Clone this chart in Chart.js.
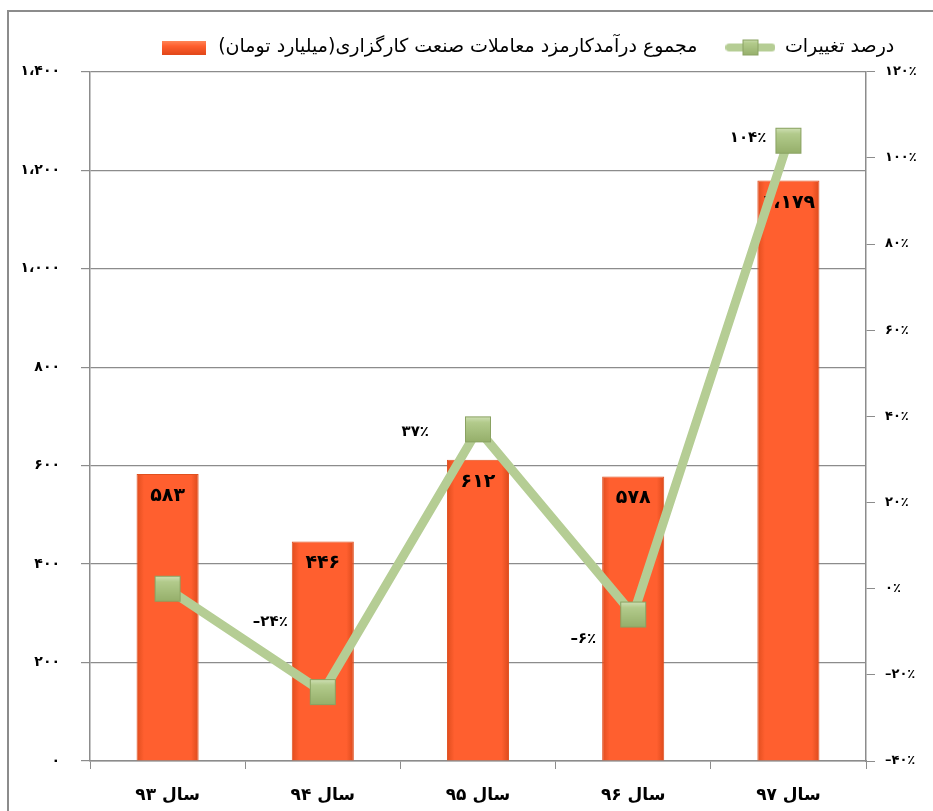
<!DOCTYPE html>
<html>
<head>
<meta charset="utf-8">
<script src="https://cdn.jsdelivr.net/npm/chart.js@4/dist/chart.umd.min.js"></script>
<style>
  body { margin: 0; background: #fff; }
  canvas { display: block; }
</style>
</head>
<body>
<canvas id="feeChart" width="933" height="811"></canvas>
<script>
// data
const years = ["سال ۹۳", "سال ۹۴", "سال ۹۵", "سال ۹۶", "سال ۹۷"];
const revenue = [583, 446, 612, 578, 1179]; // billion toman
const change = [0, -24, 37, -6, 104]; // percent
const revenueLabel = "مجموع درآمدکارمزد معاملات صنعت کارگزاری(میلیارد تومان)";
const changeLabel = "درصد تغییرات";

const FONT = "'DejaVu Sans', sans-serif";
const faDigits = "۰۱۲۳۴۵۶۷۸۹";
const LRI = "\u2066", PDI = "\u2069", RLM = "\u200F";

function fa(str) {
  return String(str).replace(/\d/g, (d) => faDigits[d]);
}
function faNum(n) {
  const s = Math.abs(n).toLocaleString("en-US").replace(/,/g, "،");
  return LRI + (n < 0 ? "–" : "") + fa(s) + PDI;
}
function faPct(n) {
  return LRI + (n < 0 ? "–" : "") + fa(Math.abs(n)) + "٪" + PDI;
}

// marker + legend icons
function makeMarker(size) {
  const c = document.createElement("canvas");
  c.width = size;
  c.height = size;
  const g = c.getContext("2d");
  const grad = g.createLinearGradient(0, 0, 0, size);
  grad.addColorStop(0, "#d6e5bf");
  grad.addColorStop(0.25, "#b3cb8c");
  grad.addColorStop(1, "#93ad68");
  g.fillStyle = grad;
  g.fillRect(1, 1, size - 2, size - 2);
  g.strokeStyle = "#8aa262";
  g.lineWidth = 1;
  g.strokeRect(1.5, 1.5, size - 3, size - 3);
  return c;
}
const marker = makeMarker(28);

function makeLineIcon() {
  const c = document.createElement("canvas");
  c.width = 50;
  c.height = 18;
  const g = c.getContext("2d");
  g.strokeStyle = "#b5cd94";
  g.lineWidth = 8;
  g.lineCap = "round";
  g.beginPath();
  g.moveTo(4, 9);
  g.lineTo(46, 9);
  g.stroke();
  g.drawImage(makeMarker(18), 16, 0);
  return c;
}
function makeBarIcon() {
  const c = document.createElement("canvas");
  c.width = 44;
  c.height = 14;
  const g = c.getContext("2d");
  const grad = g.createLinearGradient(0, 0, 0, 14);
  grad.addColorStop(0, "#ff8a5c");
  grad.addColorStop(0.4, "#ff5f2e");
  grad.addColorStop(1, "#e2481a");
  g.fillStyle = grad;
  g.fillRect(0, 0, 44, 14);
  return c;
}

const frame = {
  id: "frame",
  beforeDraw(chart) {
    const ctx = chart.ctx;
    ctx.save();
    ctx.strokeStyle = "#8c8c8c";
    ctx.lineWidth = 2;
    ctx.strokeRect(8, 11, 1200, 1200);
    ctx.restore();
  },
};

// the legend in the original sits right of centre
const legendShift = {
  id: "legendShift",
  afterLayout(chart) {
    chart.legend.left += 60;
    chart.legend.right += 60;
  },
};

const barShade = {
  id: "barShade",
  beforeDatasetsDraw(chart) {
    const ctx = chart.ctx;
    chart.getDatasetMeta(0).data.forEach((bar) => {
      const l = bar.x - bar.width / 2;
      const r = bar.x + bar.width / 2;
      const grad = ctx.createLinearGradient(l, 0, r, 0);
      grad.addColorStop(0, "#e04d1e");
      grad.addColorStop(0.12, "#ff5f2f");
      grad.addColorStop(0.88, "#ff5f2f");
      grad.addColorStop(1, "#dc4a1c");
      bar.options = Object.assign({}, bar.options, { backgroundColor: grad });
    });
  },
};

const lineLabelOffsets = [null, [-35, -70], [-49, 3], [-37, 25], [-22, -3]];

const valueLabels = {
  id: "valueLabels",
  afterDatasetDraw(chart, args) {
    const ctx = chart.ctx;
    ctx.save();
    ctx.fillStyle = "#000";
    ctx.textBaseline = "middle";
    if (args.index === 0) {
      ctx.font = "bold 19px " + FONT;
      ctx.textAlign = "center";
      args.meta.data.forEach((bar, i) => {
        ctx.fillText(faNum(revenue[i]), bar.x, bar.y + 22);
      });
    } else {
      ctx.font = "bold 15px " + FONT;
      ctx.textAlign = "right";
      args.meta.data.forEach((pt, i) => {
        const off = lineLabelOffsets[i];
        if (!off) return;
        ctx.fillText(faPct(change[i]), pt.x + off[0], pt.y + off[1]);
      });
    }
    ctx.restore();
  },
};

const ctx = document.getElementById("feeChart").getContext("2d");

new Chart(ctx, {
  data: {
    labels: years,
    datasets: [
      {
        type: "bar",
        label: revenueLabel,
        data: revenue,
        yAxisID: "y",
        backgroundColor: "#ff5f2f",
        borderColor: "#e0501f",
        borderWidth: 1,
        categoryPercentage: 1,
        barPercentage: 0.4,
        order: 1,
      },
      {
        type: "line",
        label: changeLabel,
        data: change,
        yAxisID: "y1",
        borderColor: "#b5cd94",
        borderWidth: 9,
        pointStyle: marker,
        pointRadius: 14,
        tension: 0,
        order: 0,
      },
    ],
  },
  options: {
    responsive: false,
    animation: false,
    layout: { padding: { top: 10, right: 0, bottom: 0, left: 0 } },
    plugins: {
      tooltip: { enabled: false },
      // blank spacer between legend and plot
      title: { display: true, text: " ", weight: 500, font: { size: 4 }, padding: 0 },
      legend: {
        position: "top",
        align: "center",
        labels: {
          color: "#000",
          font: { family: FONT, size: 19 },
          usePointStyle: true,
          pointStyleWidth: 50,
          padding: 28,
          generateLabels: () => [
            { text: revenueLabel + RLM, pointStyle: makeBarIcon(), datasetIndex: 0, fontColor: "#000", lineWidth: 0 },
            { text: changeLabel + RLM, pointStyle: makeLineIcon(), datasetIndex: 1, fontColor: "#000", lineWidth: 0 },
          ],
        },
      },
    },
    scales: {
      x: {
        offset: true,
        grid: {
          offset: true,
          drawOnChartArea: false,
          drawTicks: true,
          tickLength: 8,
          color: "#8c8c8c",
        },
        border: { color: "#8c8c8c", width: 1.5 },
        ticks: {
          color: "#000",
          font: { family: FONT, size: 17, weight: "bold" },
          padding: 16,
        },
        afterFit: (scale) => { scale.height = 50; },
      },
      y: {
        position: "left",
        min: 0,
        max: 1400,
        grid: { color: "#8c8c8c", lineWidth: 1.2, tickLength: 9 },
        border: { color: "#8c8c8c", width: 1.5 },
        ticks: {
          stepSize: 200,
          color: "#000",
          font: { family: FONT, size: 14, weight: "bold" },
          padding: 21,
          callback: (v) => faNum(v),
        },
        afterFit: (scale) => { scale.width = 90; },
      },
      y1: {
        position: "right",
        min: -40,
        max: 120,
        grid: { drawOnChartArea: false, color: "#8c8c8c", tickLength: 9 },
        border: { color: "#8c8c8c", width: 1.5 },
        ticks: {
          stepSize: 20,
          color: "#000",
          font: { family: FONT, size: 13, weight: "bold" },
          padding: 10,
          callback: (v) => faPct(v),
        },
        afterFit: (scale) => { scale.width = 67; },
      },
    },
  },
  plugins: [frame, legendShift, barShade, valueLabels],
});
</script>
</body>
</html>
